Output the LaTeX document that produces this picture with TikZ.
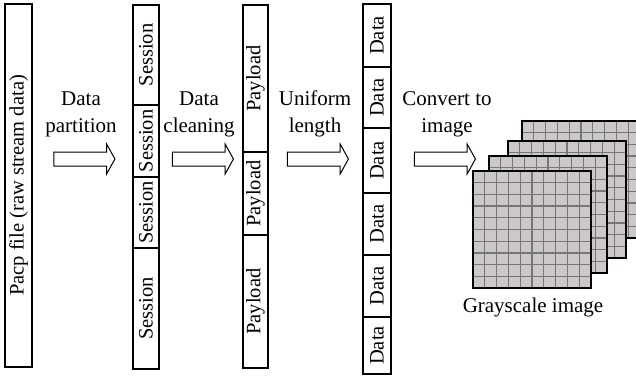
\documentclass[tikz,border=0pt]{standalone}
\usepackage{fontspec}
\setmainfont{Liberation Serif}
\usetikzlibrary{shapes.arrows}

\definecolor{cellfill}{RGB}{204,200,200}
\definecolor{cellline}{RGB}{118,118,118}

\tikzset{
  seg/.style={draw=black, line width=1.1pt, fill=white, rotate=90, inner sep=0pt,
              font=\fontsize{20.5}{24}\selectfont},
  lbl/.style={align=center, inner sep=0pt, font=\fontsize{21}{27}\selectfont},
  blockarrow/.style={single arrow, draw=black, line width=1pt, fill=white,
                     inner sep=0pt, text height=6.5pt, text depth=6.5pt,
                     minimum height=61pt,
                     single arrow head extend=8pt, single arrow tip angle=122},
  layer/.pic={
    \fill[cellfill] (0,0) rectangle (118,117);
    \foreach \k in {1,...,9} {
      \draw[cellline, line width=1.3pt] (\k*11.8,0) -- (\k*11.8,117);
      \draw[cellline, line width=1.3pt] (0,\k*11.7) -- (118,\k*11.7);
    }
    \draw[black, line width=1.2pt] (0,0) rectangle (118,117);
  }
}

\begin{document}
\begin{tikzpicture}[x=1pt, y=-1pt]
  \useasboundingbox (0,0) rectangle (636,377);

  % raw capture
  \node[seg, minimum width=363pt, minimum height=27pt] (pcap) at (18.5,185.5)
    {Pacp file (raw stream data)};

  % sessions
  \node[seg, minimum width=100pt, minimum height=26pt] (s1) at (146,55) {Session};
  \node[seg, minimum width=72pt,  minimum height=26pt] (s2) at (146,141) {Session};
  \node[seg, minimum width=71pt,  minimum height=26pt] (s3) at (146,212.5) {Session};
  \node[seg, minimum width=121pt, minimum height=26pt] (s4) at (146,308.5) {Session};

  % payloads
  \node[seg, minimum width=147pt, minimum height=25pt] (p1) at (255.5,78.5) {Payload};
  \node[seg, minimum width=83pt,  minimum height=25pt] (p2) at (255.5,193.5) {Payload};
  \node[seg, minimum width=133pt, minimum height=25pt] (p3) at (255.5,301.5) {Payload};

  % fixed-length data
  \node[seg, minimum width=63pt, minimum height=28pt] (d1) at (377,35.5) {Data};
  \node[seg, minimum width=61pt, minimum height=28pt] (d2) at (377,97.5) {Data};
  \node[seg, minimum width=65pt, minimum height=28pt] (d3) at (377,160.5) {Data};
  \node[seg, minimum width=62pt, minimum height=28pt] (d4) at (377,224) {Data};
  \node[seg, minimum width=62pt, minimum height=28pt] (d5) at (377,286) {Data};
  \node[seg, minimum width=57pt, minimum height=28pt] (d6) at (377,345.5) {Data};

  % step arrows and captions
  \node[blockarrow] (a1) at (82.5,159) {};
  \node[blockarrow] (a2) at (201,159) {};
  \node[blockarrow] (a3) at (316,159) {};
  \node[blockarrow] (a4) at (443,159) {};

  \node[lbl] (t1) at (81,114) {Data\\partition};
  \node[lbl] (t2) at (199,114) {Data\\cleaning};
  \node[lbl] (t3) at (315,114) {Uniform\\length};
  \node[lbl] (t4) at (447,114) {Convert to\\image};

  % stack of grayscale images
  \begin{scope}
    \clip (0,0) rectangle (636,377);
    \pic at (522,121) {layer};
    \pic at (508,141) {layer};
    \pic at (489,156) {layer};
    \pic at (473,171) {layer};
  \end{scope}

  \node[lbl, anchor=base] (gcap) at (533,312) {Grayscale image};
\end{tikzpicture}
\end{document}
